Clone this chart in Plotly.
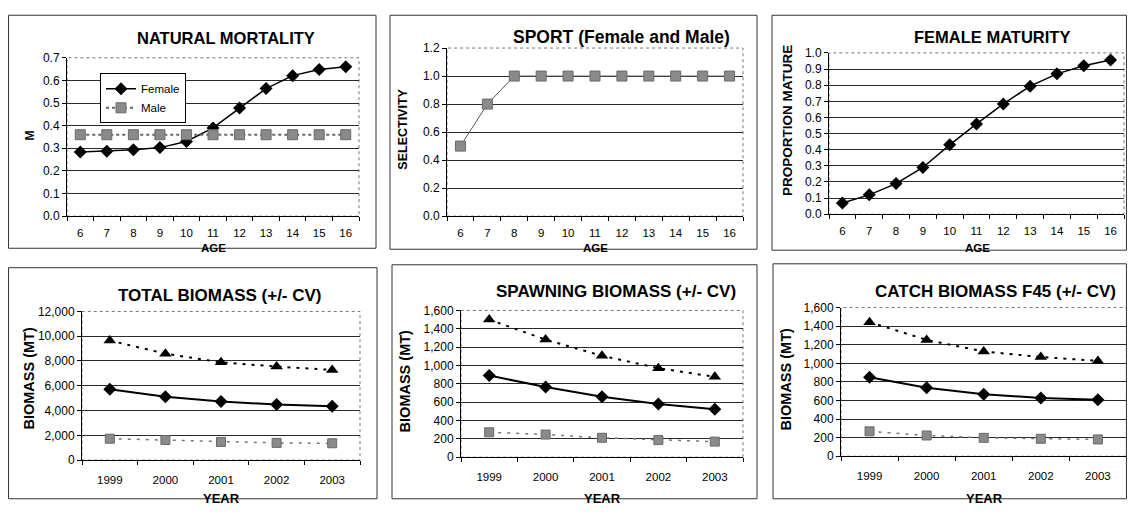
import plotly.graph_objects as go

# page is 1135x514 with the browser's default 8px body margin, so the figure
# itself is 1119x498 and every reference pixel position is shifted by 8px.
PW, PH = 1135, 514
OFF = 8
W, H = PW - 2 * OFF, PH - 2 * OFF

# ---------------- data ----------------
ages = [6, 7, 8, 9, 10, 11, 12, 13, 14, 15, 16]
m_female = [0.284, 0.287, 0.293, 0.303, 0.330, 0.390, 0.478, 0.564, 0.621, 0.648, 0.660]
m_male = [0.36, 0.36, 0.36, 0.36, 0.36, 0.36, 0.36, 0.36, 0.36, 0.36, 0.36]
sport_sel = [0.5, 0.8, 1.0, 1.0, 1.0, 1.0, 1.0, 1.0, 1.0, 1.0, 1.0]
maturity = [0.07, 0.12, 0.19, 0.29, 0.43, 0.56, 0.684, 0.794, 0.87, 0.92, 0.956]

years = [1999, 2000, 2001, 2002, 2003]
total_hi = [9650, 8590, 7890, 7550, 7280]
total_mid = [5710, 5110, 4740, 4480, 4350]
total_lo = [1730, 1620, 1470, 1390, 1360]
spawn_hi = [1500, 1282, 1106, 971, 876]
spawn_mid = [890, 766, 660, 579, 523]
spawn_lo = [272, 247, 212, 187, 170]
catch_hi = [1443, 1252, 1127, 1068, 1026]
catch_mid = [849, 737, 668, 626, 609]
catch_lo = [268, 223, 198, 188, 181]

FONT = "Liberation Sans, Arial, sans-serif"

def px(x):
    return min(max((x - OFF) / W, 0.0005), 0.9995)

def py(y):
    return min(max(1 - (y - OFF) / H, 0.0005), 0.9995)

def dx(x0, x1):
    return [px(x0), px(x1)]

def dy(top, bottom):
    return [py(bottom), py(top)]

fig = go.Figure()

# plot areas (reference pixels): x0, x1, top, bottom
areas = {
    1: (67, 359, 52, 215),
    2: (447, 743, 42, 215),
    3: (829, 1124, 47, 213),
    4: (82, 360, 313, 466),
    5: (461, 743, 312, 463),
    6: (841, 1127, 309, 462),
}

GRAY = "#8a8a8a"

def xname(i):
    return "x" if i == 1 else f"x{i}"

def yname(i):
    return "y" if i == 1 else f"y{i}"

# ---- panel 1: natural mortality
fig.add_trace(go.Scatter(x=ages, y=m_female, name="Female", mode="lines+markers",
                         line=dict(color="black", width=1.5),
                         marker=dict(symbol="diamond", size=10, color="black"),
                         xaxis="x", yaxis="y"))
fig.add_trace(go.Scatter(x=ages, y=m_male, name="Male", mode="lines+markers",
                         line=dict(color="#666", width=2, dash="dot"),
                         marker=dict(symbol="square", size=10, color=GRAY,
                                     line=dict(color="#6a6a6a", width=1)),
                         xaxis="x", yaxis="y"))
# ---- panel 2: sport selectivity
fig.add_trace(go.Scatter(x=ages, y=sport_sel, mode="lines+markers", showlegend=False,
                         line=dict(color="#555", width=1),
                         marker=dict(symbol="square", size=10, color=GRAY,
                                     line=dict(color="#6a6a6a", width=1)),
                         xaxis="x2", yaxis="y2"))
# ---- panel 3: maturity
fig.add_trace(go.Scatter(x=ages, y=maturity, mode="lines+markers", showlegend=False,
                         line=dict(color="black", width=1.5),
                         marker=dict(symbol="diamond", size=10, color="black"),
                         xaxis="x3", yaxis="y3"))

# ---- bottom panels
for i, (hi, mid, lo) in zip([4, 5, 6], [(total_hi, total_mid, total_lo),
                                        (spawn_hi, spawn_mid, spawn_lo),
                                        (catch_hi, catch_mid, catch_lo)]):
    fig.add_trace(go.Scatter(x=years, y=hi, mode="lines+markers", showlegend=False,
                             line=dict(color="black", width=2, dash="3px,6px"),
                             marker=dict(symbol="triangle-up", size=11, color="black"),
                             xaxis=xname(i), yaxis=yname(i)))
    fig.add_trace(go.Scatter(x=years, y=mid, mode="lines+markers", showlegend=False,
                             line=dict(color="black", width=2),
                             marker=dict(symbol="diamond", size=10, color="black"),
                             xaxis=xname(i), yaxis=yname(i)))
    fig.add_trace(go.Scatter(x=years, y=lo, mode="lines+markers", showlegend=False,
                             line=dict(color="#777", width=1.5, dash="3px,6px"),
                             marker=dict(symbol="square", size=9, color=GRAY,
                                         line=dict(color="#6a6a6a", width=1)),
                             xaxis=xname(i), yaxis=yname(i)))

layout = dict(
    width=W, height=H, margin=dict(l=0, r=0, t=0, b=0),
    paper_bgcolor="white", plot_bgcolor="white",
    font=dict(family=FONT, color="black", size=11),
    showlegend=True,
    legend=dict(x=px(100), y=py(68), xanchor="left", yanchor="top",
                bgcolor="white", bordercolor="black", borderwidth=1,
                font=dict(size=11.5, family=FONT), tracegroupgap=0,
                itemwidth=30),
)

yspecs = {
    1: dict(range=[0, 0.7], dtick=0.1, tickformat=".1f"),
    2: dict(range=[0, 1.2], dtick=0.2, tickformat=".1f"),
    3: dict(range=[0, 1.0], dtick=0.1, tickformat=".1f"),
    4: dict(range=[0, 12000], dtick=2000, tickformat=",d"),
    5: dict(range=[0, 1600], dtick=200, tickformat=",d"),
    6: dict(range=[0, 1600], dtick=200, tickformat=",d"),
}

shapes = []
for i, (x0, x1, t, b) in areas.items():
    xa = "xaxis" if i == 1 else f"xaxis{i}"
    ya = "yaxis" if i == 1 else f"yaxis{i}"
    if i <= 3:
        xr = [5.5, 16.5]
        tv = ages
        minor_vals = [a - 0.5 for a in ages] + [16.5]
        standoff = 6
    else:
        xr = [1998.5, 2003.5]
        tv = years
        minor_vals = [y - 0.5 for y in years] + [2003.5]
        standoff = 9
    layout[xa] = dict(domain=dx(x0, x1), anchor=yname(i), range=xr,
                      tickvals=tv, ticks="", showgrid=False, zeroline=False,
                      showline=True, linecolor="black", linewidth=1,
                      tickfont=dict(size=11.5, family=FONT),
                      ticklabelstandoff=standoff,
                      minor=dict(tickvals=minor_vals, ticks="outside", ticklen=4,
                                 tickcolor="black", showgrid=False))
    ys = yspecs[i]
    layout[ya] = dict(domain=dy(t, b), anchor=xname(i), range=ys["range"],
                      dtick=ys["dtick"], tickformat=ys["tickformat"],
                      ticks="outside", ticklen=4, tickcolor="black",
                      showgrid=True, gridcolor="#2a2a2a", gridwidth=1,
                      zeroline=False, showline=True, linecolor="black", linewidth=1,
                      tickfont=dict(size=12, family=FONT))
    # dotted plot-area border
    shapes.append(dict(type="rect", xref=f"{xname(i)} domain", yref=f"{yname(i)} domain",
                       x0=0, x1=1, y0=0, y1=1, line=dict(color="#777", width=1, dash="dot"),
                       layer="below"))

# outer panel boxes (reference pixels): x0, x1, top, bottom
boxes = [(7, 376, 7, 248), (390, 757, 5, 249), (772, 1133, 5, 250),
         (7, 377, 268, 513), (392, 757, 265, 513), (773, 1133, 264, 513)]
for (x0, x1, t, b) in boxes:
    shapes.append(dict(type="rect", xref="paper", yref="paper",
                       x0=px(x0), x1=px(x1), y0=py(b), y1=py(t),
                       line=dict(color="#333", width=1)))
layout["shapes"] = shapes

# titles & axis labels (text, x px, y px, size, angle)
texts = [
    ("NATURAL MORTALITY", 226, 32, 16.5, 0),
    ("SPORT (Female and Male)", 621, 31, 17.5, 0),
    ("FEMALE MATURITY", 992, 31, 16.5, 0),
    ("TOTAL BIOMASS (+/- CV)", 220, 297, 17, 0),
    ("SPAWNING BIOMASS (+/- CV)", 616, 293, 17, 0),
    ("CATCH BIOMASS F45 (+/- CV)", 995, 292, 17, 0),
    ("M", 30, 132, 12, -90),
    ("SELECTIVITY", 403, 126, 12.5, -90),
    ("PROPORTION MATURE", 788, 117, 13.5, -90),
    ("AGE", 213, 248, 11.5, 0),
    ("AGE", 595, 248, 11.5, 0),
    ("AGE", 977, 248, 11.5, 0),
    ("BIOMASS (MT)", 29, 382, 14.5, -90),
    ("BIOMASS (MT)", 405, 385, 14.5, -90),
    ("BIOMASS (MT)", 786, 383, 14.5, -90),
    ("YEAR", 221, 505, 13, 0),
    ("YEAR", 602, 505, 13, 0),
    ("YEAR", 984, 505, 13, 0),
]
anns = []
for txt, x, y, s, ang in texts:
    anns.append(dict(text=f"<b>{txt}</b>", x=px(x), y=py(y), xref="paper", yref="paper",
                     xanchor="center", yanchor="middle", showarrow=False, textangle=ang,
                     font=dict(size=s, family=FONT, color="black")))
layout["annotations"] = anns

fig.update_layout(**layout)
fig.write_html("out.html", config={"displayModeBar": False})
